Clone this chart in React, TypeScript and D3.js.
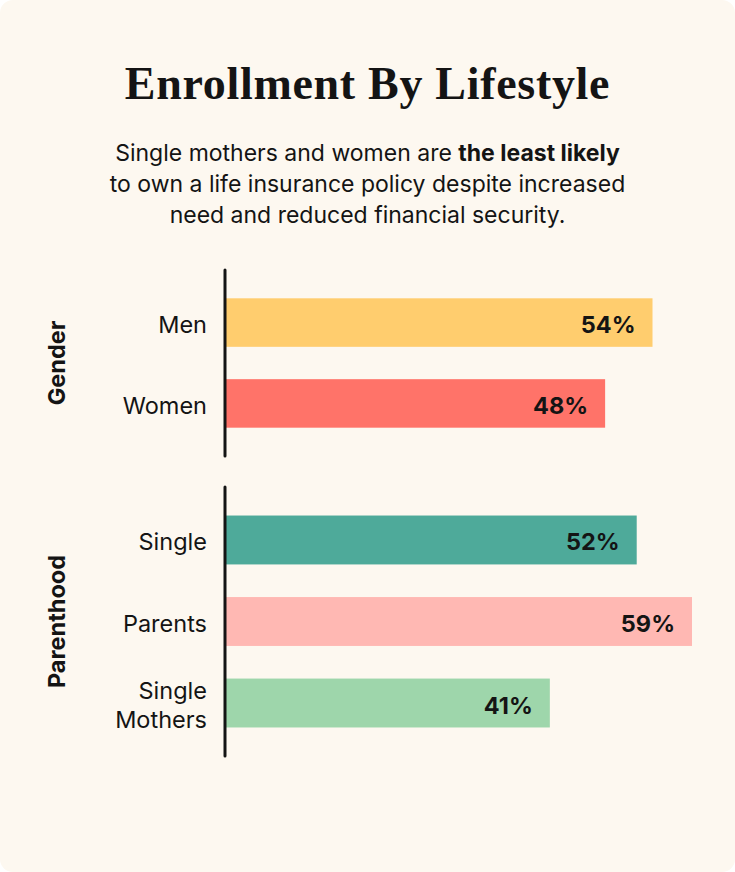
import { useMemo } from "react";
import * as d3 from "d3";

const W = 735;
const H = 872;

const genderCats = ["Men", "Women"];
const genderVals = [54, 48];
const genderColors = ["#FFCD6E", "#FF7369"];

const parentCats = ["Single", "Parents", "Single Mothers"];
const parentVals = [52, 59, 41];
const parentColors = ["#4EAA9A", "#FFB8B3", "#9ED6AB"];

const groupNames = ["Gender", "Parenthood"];

const subtitleLines = [
  [["Single mothers and women are ", false], ["the least likely", true]],
  [["to own a life insurance policy despite increased", false]],
  [["need and reduced financial security.", false]],
] as [string, boolean][][];

const SANS = "Inter, 'Noto Sans', sans-serif";
const SERIF = "'Liberation Serif', serif";
const INK = "#141414";

export default function App() {
  const axisX = 225;
  const x = useMemo(
    () => d3.scaleLinear().domain([0, 59]).range([axisX + 1, 692]),
    []
  );

  const groups = [
    { name: groupNames[0], cats: genderCats, vals: genderVals, colors: genderColors, y0: 270, y1: 456 },
    { name: groupNames[1], cats: parentCats, vals: parentVals, colors: parentColors, y0: 487, y1: 756 },
  ];

  const labelSize = 23.5;

  return (
    <svg
      width={W}
      height={H}
      style={{ position: "absolute", left: 0, top: 0, display: "block" }}
    >
      <rect width={W} height={H} fill="#ffffff" />
      <rect width={W} height={H} rx={13} fill="#FDF8F0" />

      <text
        x={W / 2}
        y={98.5}
        textAnchor="middle"
        fontFamily={SERIF}
        fontWeight={700}
        fontSize={46}
        letterSpacing={0.7}
        fill={INK}
      >
        Enrollment By Lifestyle
      </text>

      {subtitleLines.map((line, i) => (
        <text
          key={i}
          x={W / 2}
          y={161 + i * 31}
          textAnchor="middle"
          fontFamily={SANS}
          fontSize={23}
          fill={INK}
        >
          {line.map(([t, b], j) => (
            <tspan key={j} fontWeight={b ? 700 : 400}>
              {t}
            </tspan>
          ))}
        </text>
      ))}

      {groups.map((g) => {
        const y = d3
          .scaleBand<string>()
          .domain(g.cats)
          .range([g.y0, g.y1])
          .paddingInner(0.4)
          .paddingOuter(0.35);
        const mid = (g.y0 + g.y1) / 2;
        return (
          <g key={g.name}>
            <text
              transform={`translate(56,${mid}) rotate(-90)`}
              textAnchor="middle"
              dominantBaseline="central"
              fontFamily={SANS}
              fontWeight={700}
              fontSize={labelSize}
              fill={INK}
            >
              {g.name}
            </text>
            {g.cats.map((c, i) => {
              const by = y(c)!;
              const bh = y.bandwidth();
              const cy = by + bh / 2 + 2;
              const words = c.split(" ");
              const twoLine = c === "Single Mothers";
              return (
                <g key={c}>
                  <rect
                    x={x(0)}
                    y={by}
                    width={x(g.vals[i]) - x(0)}
                    height={bh}
                    fill={g.colors[i]}
                  />
                  {twoLine ? (
                    words.map((w, k) => (
                      <text
                        key={w}
                        x={207}
                        y={cy + (k - 0.5) * 29}
                        textAnchor="end"
                        dominantBaseline="central"
                        fontFamily={SANS}
                        fontSize={labelSize}
                        fill={INK}
                      >
                        {w}
                      </text>
                    ))
                  ) : (
                    <text
                      x={207}
                      y={cy}
                      textAnchor="end"
                      dominantBaseline="central"
                      fontFamily={SANS}
                      fontSize={labelSize}
                      fill={INK}
                    >
                      {c}
                    </text>
                  )}
                  <text
                    x={x(g.vals[i]) - 17}
                    y={cy}
                    textAnchor="end"
                    dominantBaseline="central"
                    fontFamily={SANS}
                    fontWeight={700}
                    fontSize={labelSize}
                    fill={INK}
                  >
                    {g.vals[i]}%
                  </text>
                </g>
              );
            })}
            <line
              x1={axisX}
              x2={axisX}
              y1={g.y0}
              y2={g.y1}
              stroke={INK}
              strokeWidth={3}
              strokeLinecap="round"
            />
          </g>
        );
      })}
    </svg>
  );
}
